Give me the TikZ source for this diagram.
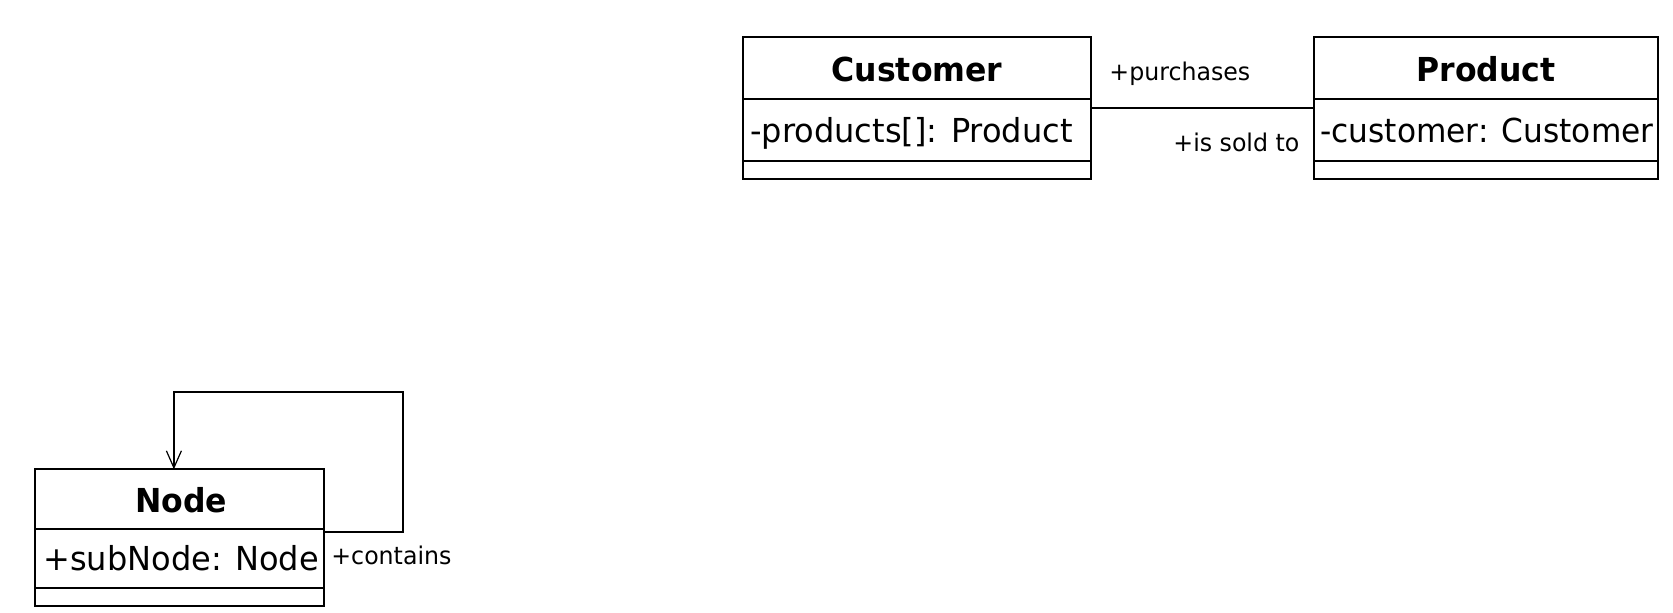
\documentclass[tikz,border=0pt]{standalone}
\usepackage{fontspec}
\setmainfont{DejaVu Sans}[FakeStretch=0.97, BoldFeatures={FakeStretch=0.955}]
\usetikzlibrary{arrows.meta}
\begin{document}
\begin{tikzpicture}[x=0.5pt,y=-0.5pt,
  comp/.style={draw, line width=1pt, rectangle, inner sep=0pt, outer sep=0pt, anchor=north west},
  titletext/.style={inner sep=0pt, anchor=base, font=\fontsize{16.5pt}{18pt}\selectfont\bfseries},
  attrtext/.style={inner sep=0pt, anchor=base west, font=\fontsize{16.5pt}{18pt}\selectfont},
  roletext/.style={inner sep=0pt, anchor=base west, font=\fontsize{12.2pt}{14pt}\selectfont},
  conn/.style={line width=1pt}]
\useasboundingbox (0,0) rectangle (1673,613);
% Customer
\node[comp, minimum width=173.7pt, minimum height=30.7pt] (custT) at (743.3,37.3) {};
\node[comp, minimum width=173.7pt, minimum height=31pt] (custA) at (custT.south west) {};
\node[comp, minimum width=173.7pt, minimum height=9pt] (custO) at (custA.south west) {};
\node[titletext] (custTt) at (917,82) {Customer};
\node[attrtext] (custAt) at (750,143) {-products[]: Product};
% Product
\node[comp, minimum width=172pt, minimum height=30.7pt] (prodT) at (1314,37.3) {};
\node[comp, minimum width=172pt, minimum height=31pt] (prodA) at (prodT.south west) {};
\node[comp, minimum width=172pt, minimum height=9pt] (prodO) at (prodA.south west) {};
\node[titletext] (prodTt) at (1486,82) {Product};
\node[attrtext, transform shape, xscale=0.975] (prodAt) at (1320,143) {-customer: Customer};
% Node
\node[comp, minimum width=144.3pt, minimum height=29.85pt] (nodeT) at (35.2,469.3) {};
\node[comp, minimum width=144.3pt, minimum height=29.5pt] (nodeA) at (nodeT.south west) {};
\node[comp, minimum width=144.3pt, minimum height=8.75pt] (nodeO) at (nodeA.south west) {};
\node[titletext] (nodeTt) at (181,512.3) {Node};
\node[attrtext] (nodeAt) at (43,570) {+subNode: Node};
% association Customer - Product
\draw[conn] ([yshift=-4.8pt]custA.north east) -- ([yshift=-4.8pt]prodA.north west);
\node[roletext] (purch) at (1109,80.7) {+purchases};
\node[roletext] (sold) at (1173,151.7) {+is sold to};
% self association
\coordinate (loopc) at (402.7,392);
\draw[conn, -{Straight Barb[length=8.5pt,width=7.5pt,line width=0.6pt]}]
  ([yshift=-1.5pt]nodeA.north east) -| (loopc) -| ([xshift=69.35pt]nodeT.north west);
\node[roletext] (contains) at (331,564.3) {+contains};
\end{tikzpicture}
\end{document}
